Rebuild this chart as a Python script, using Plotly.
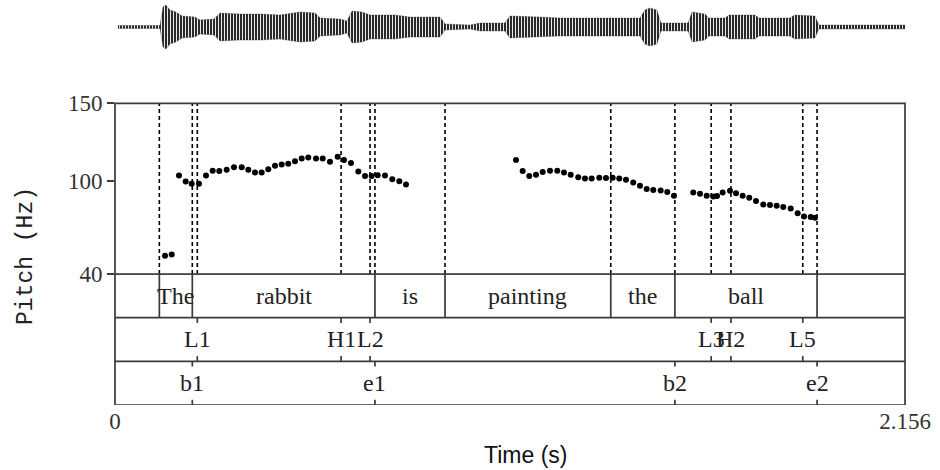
import plotly.graph_objects as go

# ---------------- data ----------------
# pitch track (time s, Hz)
pitch_t = [0.1365, 0.1547,
           0.1747, 0.1929, 0.2093, 0.2292, 0.2483, 0.2666, 0.2846, 0.3048, 0.3248, 0.3458,
           0.3638, 0.3821, 0.4003, 0.4184, 0.4366, 0.4549, 0.4729, 0.4912, 0.5095, 0.5275,
           0.5485, 0.5668, 0.5867, 0.6078, 0.6249, 0.6440, 0.6640, 0.6823, 0.7005, 0.7169,
           0.7368, 0.7567, 0.7759, 0.7941,
           1.0943, 1.1126, 1.1306, 1.1489, 1.1672, 1.1871, 1.2070, 1.2253, 1.2436, 1.2643,
           1.2826, 1.3009, 1.3217, 1.3399, 1.3582, 1.3762, 1.3945, 1.4144, 1.4327, 1.4510,
           1.4690, 1.4892, 1.5072, 1.5255,
           1.5782, 1.5965, 1.6148, 1.6328, 1.6430, 1.6584, 1.6784, 1.6947, 1.7130, 1.7310,
           1.7493, 1.7692, 1.7875, 1.8058, 1.8238, 1.8440, 1.8631, 1.8803, 1.8986, 1.9103]
pitch_hz = [51.8, 52.6,
            103.4, 99.6, 98.1, 98.1, 103.4, 106.6, 106.4, 107.1, 108.8, 108.8,
            107.1, 105.4, 105.4, 107.5, 109.7, 110.5, 111.0, 112.7, 114.4, 115.0,
            114.4, 114.4, 112.4, 115.6, 113.5, 111.6, 106.0, 103.2, 103.2, 103.7,
            103.4, 101.1, 99.8, 97.6,
            113.5, 106.4, 103.2, 103.9, 105.8, 106.6, 106.6, 105.4, 103.9, 102.4,
            101.5, 101.5, 102.0, 101.8, 102.0, 101.5, 100.7, 98.9, 96.8, 94.7,
            94.2, 93.8, 92.9, 90.4,
            92.5, 91.7, 90.4, 89.9, 90.2, 92.5, 93.6, 92.1, 90.4, 89.1,
            87.0, 84.8, 84.4, 83.9, 83.1, 82.2, 79.2, 77.0, 76.7, 76.2]

# waveform envelope (time s, half amplitude)
wave_t = [0.008, 0.123, 0.131, 0.139, 0.150, 0.166, 0.183, 0.218, 0.232, 0.270, 0.287,
          0.341, 0.396, 0.450, 0.505, 0.546, 0.560, 0.614, 0.633, 0.647, 0.674, 0.696,
          0.764, 0.805, 0.887, 0.901, 0.969, 0.996, 1.064, 1.078, 1.160, 1.214, 1.433,
          1.446, 1.460, 1.479, 1.490, 1.564, 1.575, 1.610, 1.621, 1.665, 1.676, 1.747,
          1.757, 1.842, 1.855, 1.910, 1.921, 2.159]
wave_amp = [1.5, 1.5, 20, 22, 17, 15, 11, 10, 7, 8, 14,
            13, 13, 12, 15, 14, 9, 8, 6, 16, 15, 12,
            12, 10, 10, 3, 2, 4, 4, 11, 10, 9, 9,
            17, 19, 17, 4, 4, 15, 13, 9, 9, 12, 12,
            9, 9, 12, 11, 2, 2]

# tier 1: words (interval boundaries and labels)
word_bounds = [0.121, 0.211, 0.7095, 0.9006, 1.353, 1.528, 1.916]
word_labels = ["The", "rabbit", "is", "painting", "the", "ball"]

# tier 2: tones (points)
tone_t = [0.2246, 0.617, 0.696, 1.627, 1.681, 1.877]
tone_labels = ["L1", "H1", "L2", "L3", "H2", "L5"]

# tier 3: break indices (points)
brk_t = [0.211, 0.7095, 1.528, 1.916]
brk_labels = ["b1", "e1", "b2", "e2"]

t_max = 2.156
y_ticks = [40, 100, 150]

# ---------------- figure ----------------
frame = "#3a3a3a"
serif = "Liberation Serif"
W, H = 940, 470
ml, mr, mt, mb = 115, 35, 0, 65
pw, ph = W - ml - mr, H - mt - mb

fig = go.Figure()

# waveform envelope as striped polygon (glottal pulse texture)
poly_x = wave_t + wave_t[::-1]
poly_y = wave_amp + [-a for a in wave_amp[::-1]]
fig.add_trace(go.Scatter(x=poly_x, y=poly_y, mode="lines", fill="toself",
                         fillcolor="#2a2a2a",
                         fillpattern=dict(shape="|", size=3, solidity=0.3,
                                          fgcolor="#ffffff", bgcolor="#2a2a2a",
                                          fillmode="replace"),
                         line=dict(color="rgba(40,40,40,0.6)", width=0.5),
                         xaxis="x", yaxis="y3", hoverinfo="skip", showlegend=False))

# pitch points
fig.add_trace(go.Scatter(x=pitch_t, y=pitch_hz, mode="markers",
                         marker=dict(color="black", size=6),
                         xaxis="x", yaxis="y", showlegend=False))

shapes = []
# all boundaries as dashed lines in pitch panel
all_marks = sorted(set(word_bounds + tone_t + brk_t))
for t in all_marks:
    shapes.append(dict(type="line", xref="x", yref="y domain", x0=t, x1=t, y0=0, y1=1,
                       line=dict(color="black", width=1.6, dash="4px,3px")))

# pitch panel frame
shapes.append(dict(type="rect", xref="x domain", yref="y domain", x0=0, x1=1, y0=0, y1=1,
                   line=dict(color=frame, width=1.7)))
# tiers frame
shapes.append(dict(type="rect", xref="x domain", yref="y2", x0=0, x1=1, y0=0, y1=3,
                   line=dict(color=frame, width=1.7)))
for yb in [1, 2]:
    shapes.append(dict(type="line", xref="x domain", yref="y2", x0=0, x1=1, y0=yb, y1=yb,
                       line=dict(color=frame, width=1.7)))

# word interval boundaries (tier 1: y2 2..3)
for t in word_bounds:
    shapes.append(dict(type="line", xref="x", yref="y2", x0=t, x1=t, y0=2, y1=3,
                       line=dict(color=frame, width=1.7)))

# point ticks in tiers 2 and 3
tick_len = 0.12
for pts, lo in [(tone_t, 1), (brk_t, 0)]:
    for t in pts:
        shapes.append(dict(type="line", xref="x", yref="y2", x0=t, x1=t,
                           y0=lo + 1 - tick_len, y1=lo + 1, line=dict(color=frame, width=1.7)))
        shapes.append(dict(type="line", xref="x", yref="y2", x0=t, x1=t,
                           y0=lo, y1=lo + tick_len, line=dict(color=frame, width=1.7)))

annotations = []
tier_font = dict(family=serif, size=24, color="#222222")
for i, lab in enumerate(word_labels):
    xc = (word_bounds[i] + word_bounds[i + 1]) / 2
    annotations.append(dict(x=xc, y=2.5, xref="x", yref="y2", text=lab, showarrow=False,
                            font=tier_font, xanchor="center", yanchor="middle"))
for t, lab in zip(tone_t, tone_labels):
    annotations.append(dict(x=t, y=1.5, xref="x", yref="y2", text=lab, showarrow=False,
                            font=tier_font, xanchor="center", yanchor="middle"))
for t, lab in zip(brk_t, brk_labels):
    annotations.append(dict(x=t, y=0.5, xref="x", yref="y2", text=lab, showarrow=False,
                            font=tier_font, xanchor="center", yanchor="middle"))

# axis titles (pixel positions converted to paper coordinates)
annotations.append(dict(x=(26 - ml) / pw, y=(H - mb - 256) / ph, xref="paper", yref="paper",
                        text="Pitch (Hz)", showarrow=False, textangle=-90,
                        xanchor="center", yanchor="middle",
                        font=dict(family="Liberation Mono", size=23, color="#222222")))
annotations.append(dict(x=(525 - ml) / pw, y=(H - mb - 455) / ph, xref="paper", yref="paper",
                        text="Time (s)", showarrow=False, xanchor="center", yanchor="middle",
                        font=dict(family="Liberation Sans", size=23, color="#111111")))

fig.update_layout(
    width=W, height=H,
    margin=dict(l=ml, r=mr, t=mt, b=mb, pad=0, autoexpand=False),
    paper_bgcolor="white", plot_bgcolor="white",
    showlegend=False,
    xaxis=dict(range=[0, t_max], anchor="y2", showgrid=False, zeroline=False,
               tickvals=[0, t_max], ticktext=["0", "2.156"], ticks="", automargin=False,
               tickfont=dict(family=serif, size=23, color="#333333"), showline=False),
    yaxis=dict(domain=[0.32346, 0.74494], range=[40, 150], anchor="x", automargin=False,
               tickvals=y_ticks, ticktext=[str(v) for v in y_ticks],
               ticks="outside", ticklen=7, tickcolor=frame, tickwidth=1.5,
               tickfont=dict(family=serif, size=23, color="#333333"),
               showgrid=False, zeroline=False, showline=False),
    yaxis2=dict(domain=[0, 0.32346], range=[0, 3], anchor="x", showticklabels=False,
                automargin=False, ticks="", showgrid=False, zeroline=False, showline=False),
    yaxis3=dict(domain=[0.87407, 0.99259], range=[-24, 24], anchor="x", visible=False,
                automargin=False),
    shapes=shapes,
    annotations=annotations,
)

fig.write_html("out.html")
